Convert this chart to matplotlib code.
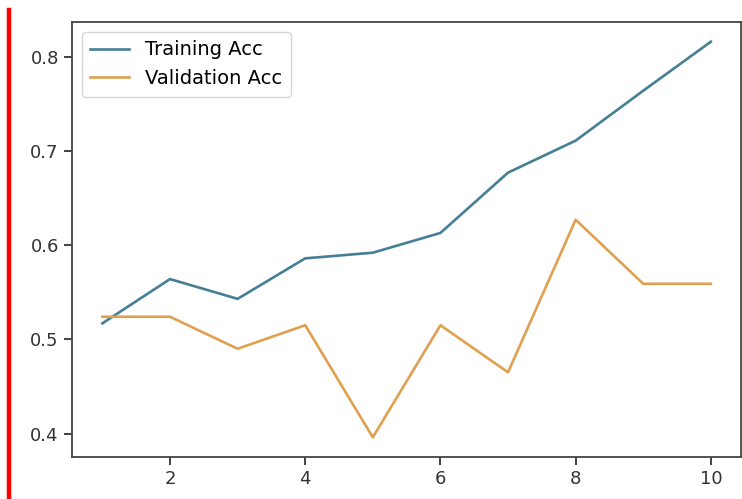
import matplotlib
matplotlib.use("Agg")
import matplotlib.pyplot as plt
from matplotlib.lines import Line2D

epochs = [1, 2, 3, 4, 5, 6, 7, 8, 9, 10]
train_acc = [0.517, 0.564, 0.543, 0.586, 0.592, 0.613, 0.677, 0.711, 0.764, 0.816]
val_acc = [0.524, 0.524, 0.490, 0.515, 0.396, 0.515, 0.465, 0.627, 0.559, 0.559]

fig = plt.figure(figsize=(7.42, 4.99), dpi=100)
ax = fig.add_axes([0.097, 0.084, 0.902, 0.872])

ax.plot(epochs, train_acc, color="#457f96", linewidth=1.9, label="Training Acc")
ax.plot(epochs, val_acc, color="#e0a050", linewidth=1.9, label="Validation Acc")

ax.set_xticks([2, 4, 6, 8, 10])
ax.set_yticks([0.4, 0.5, 0.6, 0.7, 0.8])
ax.tick_params(labelsize=13, length=6, width=1.3, colors="#333333")
for s in ax.spines.values():
    s.set_linewidth(1.3)
    s.set_color("#444444")

ax.legend(loc="upper left", fontsize=14, frameon=True, edgecolor="#cccccc",
          borderpad=0.45)

# red marker line on the left edge
fig.add_artist(Line2D([9 / 742, 9 / 742], [0, 1 - 10 / 499],
                      transform=fig.transFigure, color="red", linewidth=3.2))

fig.savefig("out.png", dpi=100)
